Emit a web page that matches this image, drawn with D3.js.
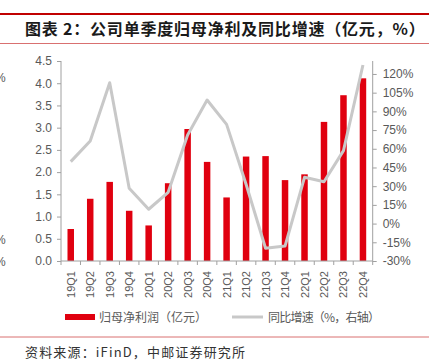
<!DOCTYPE html>
<html>
<head>
<meta charset="utf-8">
<script src="https://cdn.jsdelivr.net/npm/d3@7"></script>
<style>
  body { margin: 0; background: #fff; }
  svg { display: block; }
</style>
</head>
<body>
<div id="chart"></div>
<script>
var quarters = ["19Q1", "19Q2", "19Q3", "19Q4", "20Q1", "20Q2", "20Q3", "20Q4",
                "21Q1", "21Q2", "21Q3", "21Q4", "22Q1", "22Q2", "22Q3", "22Q4"];
var profit = [0.72, 1.40, 1.78, 1.13, 0.80, 1.75, 2.97, 2.23,
              1.43, 2.35, 2.36, 1.82, 1.95, 3.13, 3.73, 4.11];
var growth = [49.7, 66.3, 113, 28.3, 11.5, 25.1, 71, 99.1,
              79.6, 31.5, -19.8, -18, 37.1, 33.6, 58.5, 127.2];
var leftTicks = [0, 0.5, 1, 1.5, 2, 2.5, 3, 3.5, 4, 4.5];
var rightTicks = [-30, -15, 0, 15, 30, 45, 60, 75, 90, 105, 120];

var width = 434, height = 363;
var plotLeft = 61, plotRight = 372.7, plotTop = 61, plotBottom = 261;
var red = "#e0000f", grey = "#c8c8c8", axisColor = "#a0a0a0", textColor = "#595959";
var cjk = "'Noto Sans CJK SC', sans-serif";
var latin = "'Liberation Sans', Arial, sans-serif";

var svg = d3.select("#chart").append("svg")
    .attr("width", width)
    .attr("height", height);

// header rules + title
svg.append("line").attr("x1", 0).attr("x2", 429).attr("y1", 14).attr("y2", 14)
    .attr("stroke", "#c00000").attr("stroke-width", 2);
svg.append("line").attr("x1", 0).attr("x2", 429).attr("y1", 43.5).attr("y2", 43.5)
    .attr("stroke", "#d97070").attr("stroke-width", 1);
svg.append("text")
    .attr("x", 25).attr("y", 35)
    .style("font-family", cjk).style("font-size", "16px").style("font-weight", "bold")
    .style("letter-spacing", "0.8px").style("white-space", "pre")
    .attr("fill", "#1a1a1a")
    .text("图表 2：公司单季度归母净利及同比增速（亿元，%）");

// stray glyphs from the neighbouring chart (cut off in the original too)
[82, 244, 266].forEach(function(y) {
    svg.append("text").attr("x", -5).attr("y", y)
        .style("font-family", latin).style("font-size", "12px")
        .attr("fill", textColor).text("%");
});

var x = d3.scaleBand()
    .domain(quarters)
    .range([plotLeft, plotRight])
    .paddingInner(0.667)
    .paddingOuter(0.3335);

var yL = d3.scaleLinear().domain([0, 4.5]).range([plotBottom, plotTop]);
var yR = d3.scaleLinear().domain([-30, 130.4]).range([plotBottom, plotTop]);

// bars
svg.append("g").selectAll("rect")
    .data(profit)
    .enter().append("rect")
    .attr("x", function(d, i) { return x(quarters[i]); })
    .attr("y", function(d) { return yL(d); })
    .attr("width", x.bandwidth())
    .attr("height", function(d) { return plotBottom - yL(d); })
    .attr("fill", red);

// line
var line = d3.line()
    .x(function(d, i) { return x(quarters[i]) + x.bandwidth() / 2; })
    .y(function(d) { return yR(d); });

svg.append("path")
    .datum(growth)
    .attr("d", line)
    .attr("fill", "none")
    .attr("stroke", grey)
    .attr("stroke-width", 3)
    .attr("stroke-linejoin", "round");

// left axis
var gL = svg.append("g")
    .attr("transform", "translate(" + plotLeft + ",0)")
    .call(d3.axisLeft(yL).tickValues(leftTicks).tickSize(4).tickPadding(5)
        .tickFormat(d3.format(".1f")));

// right axis
var gR = svg.append("g")
    .attr("transform", "translate(" + plotRight + ",0)")
    .call(d3.axisRight(yR).tickValues(rightTicks).tickSize(4).tickPadding(6)
        .tickFormat(function(d) { return d + "%"; }));

[gL, gR].forEach(function(g) {
    g.select(".domain").attr("stroke", axisColor).attr("d",
        "M0," + plotTop + "V" + plotBottom);
    g.selectAll(".tick line").attr("stroke", axisColor);
    g.selectAll("text").attr("fill", textColor)
        .style("font-family", latin).style("font-size", "12px");
});

// bottom axis with ticks between categories
var gX = svg.append("g").attr("transform", "translate(0," + plotBottom + ")");
gX.append("line").attr("x1", plotLeft).attr("x2", plotRight)
    .attr("stroke", axisColor);
gX.selectAll(".sep")
    .data(d3.range(quarters.length + 1))
    .enter().append("line")
    .attr("x1", function(i) { return plotLeft + i * x.step(); })
    .attr("x2", function(i) { return plotLeft + i * x.step(); })
    .attr("y1", 0).attr("y2", 4)
    .attr("stroke", axisColor);
gX.selectAll(".lbl")
    .data(quarters)
    .enter().append("text")
    .attr("transform", function(d) {
        return "translate(" + (x(d) + x.bandwidth() / 2 + 4) + ",10) rotate(-90)";
    })
    .attr("text-anchor", "end")
    .style("font-family", latin).style("font-size", "11px")
    .attr("fill", textColor)
    .text(function(d) { return d; });

// legend
svg.append("rect").attr("x", 65).attr("y", 314).attr("width", 30).attr("height", 6)
    .attr("fill", red);
svg.append("text").attr("x", 99).attr("y", 321.5)
    .attr("textLength", 108).attr("lengthAdjust", "spacing")
    .style("font-family", cjk).style("font-size", "12px").attr("fill", textColor)
    .text("归母净利润（亿元）");
svg.append("line").attr("x1", 232).attr("x2", 263).attr("y1", 317).attr("y2", 317)
    .attr("stroke", grey).attr("stroke-width", 3);
svg.append("text").attr("x", 268).attr("y", 321.5)
    .attr("textLength", 112).attr("lengthAdjust", "spacing")
    .style("font-family", cjk).style("font-size", "12px").attr("fill", textColor)
    .text("同比增速（%，右轴）");

// footer
svg.append("line").attr("x1", 0).attr("x2", 429).attr("y1", 337).attr("y2", 337)
    .attr("stroke", "#d97070").attr("stroke-width", 1);
svg.append("text").attr("x", 25).attr("y", 357)
    .attr("textLength", 220).attr("lengthAdjust", "spacing")
    .style("font-family", cjk).style("font-size", "13px").attr("fill", "#333")
    .text("资料来源：iFinD，中邮证券研究所");
</script>
</body>
</html>
